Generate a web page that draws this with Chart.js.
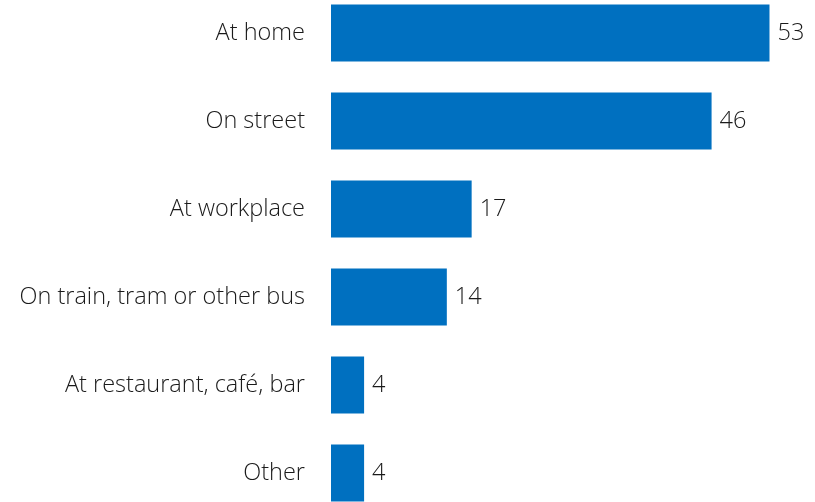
<!DOCTYPE html>
<html>
<head>
<meta charset="utf-8">
<script src="https://cdn.jsdelivr.net/npm/chart.js@4"></script>
<style>
  html, body { margin: 0; padding: 0; background: #fff; overflow: hidden; }
  #places { position: absolute; left: 0; top: -11px; }
</style>
</head>
<body>
<canvas id="places" width="815" height="528"></canvas>
<script>
const places = ['At home', 'On street', 'At workplace', 'On train, tram or other bus', 'At restaurant, café, bar', 'Other'];
const counts = [53, 46, 17, 14, 4, 4];

const FONT = { family: 'Open Sans', size: 23.5, weight: '300' };
const TEXT = '#1a1a1a';

// value printed just past the end of each bar
const barValues = {
  id: 'barValues',
  afterDatasetsDraw(chart) {
    const ctx = chart.ctx;
    const meta = chart.getDatasetMeta(0);
    ctx.save();
    ctx.font = FONT.weight + ' ' + FONT.size + 'px "' + FONT.family + '"';
    ctx.fillStyle = TEXT;
    ctx.textBaseline = 'middle';
    ctx.textAlign = 'left';
    meta.data.forEach((bar, i) => {
      ctx.fillText(counts[i], bar.x + 8, bar.y);
    });
    ctx.restore();
  }
};

new Chart(document.getElementById('places'), {
  type: 'bar',
  data: {
    labels: places,
    datasets: [{
      data: counts,
      backgroundColor: '#0070C0',
      categoryPercentage: 1,
      barPercentage: 0.65
    }]
  },
  options: {
    indexAxis: 'y',
    responsive: false,
    animation: false,
    layout: { padding: 0 },
    plugins: { legend: { display: false }, tooltip: { enabled: false } },
    scales: {
      x: { display: false, min: 0, max: 58.5 },
      y: {
        grid: { display: false },
        border: { display: false },
        ticks: { color: TEXT, font: FONT, padding: 18 },
        afterFit(scale) {
          scale.width = 331;
          // bars fill the full height, no room kept for end labels
          scale.paddingTop = 0;
          scale.paddingBottom = 0;
        }
      }
    }
  },
  plugins: [barValues]
});
</script>
</body>
</html>
